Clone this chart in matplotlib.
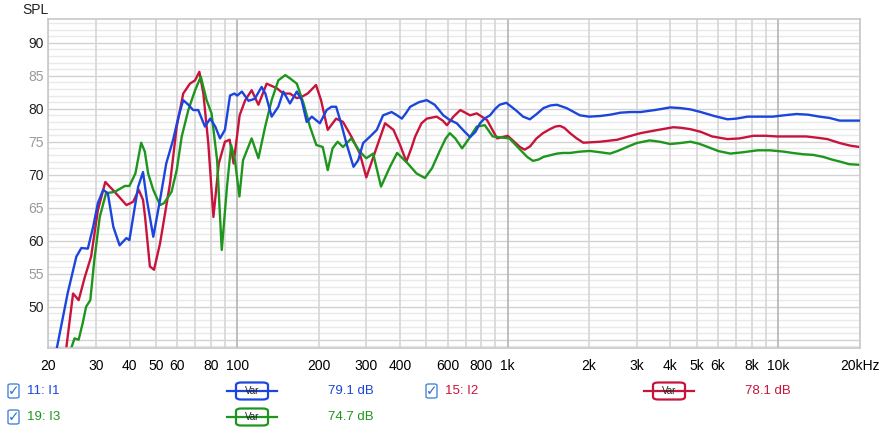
import matplotlib
matplotlib.use('Agg')
import matplotlib.pyplot as plt
from matplotlib.patches import FancyBboxPatch
from matplotlib.lines import Line2D
from matplotlib.ticker import FixedLocator, NullFormatter

plt.rcParams['font.family'] = ['Liberation Sans', 'DejaVu Sans']

# I1 (blue)
b_f = [21.5, 23.6, 25.4, 26.5, 28.0, 29.3, 30.5, 31.9, 33.2, 34.8, 36.7, 38.9, 39.9,
       41.2, 43.0, 44.8, 46.3, 48.9, 51.8, 54.6, 57.9, 60.6, 63.1, 65.9, 68.7, 71.7,
       75.9, 79.4, 82.9, 86.3, 90, 94, 97.5, 100, 104, 110, 116, 123, 127, 134, 141.8,
       148, 156.6, 166, 173, 180.6, 188.6, 202, 214, 223, 232, 242, 253, 269, 280, 292,
       310, 328, 346, 372, 390, 406, 420, 436, 470, 502, 537, 578, 610, 648, 690, 726,
       760, 790, 820, 860, 900, 934, 988, 1070, 1140, 1208, 1280, 1356, 1440, 1520,
       1650, 1850, 2000, 2198, 2400, 2612, 2850, 3100, 3500, 3994, 4350, 4740, 5176,
       5800, 6500, 7000, 7720, 8600, 9560, 10500, 11700, 12900, 14240, 15500, 16900,
       18500, 20000]
b_db = [43.7, 52.1, 57.6, 58.9, 58.8, 62.1, 65.7, 67.7, 67.2, 62.1, 59.3, 60.4, 60.1,
        63.6, 68.2, 70.4, 66.2, 60.6, 66.2, 71.7, 75.3, 78.8, 81.3, 80.6, 79.8, 79.8,
        77.3, 78.5, 77.3, 75.5, 76.8, 82.0, 82.3, 82.0, 82.6, 81.2, 81.5, 83.3, 82.3,
        78.8, 80.3, 82.6, 80.8, 82.6, 81.3, 78.0, 78.8, 77.8, 79.8, 80.3, 80.3, 77.8,
        74.8, 71.2, 72.2, 74.8, 75.8, 76.8, 79.0, 79.5, 79.0, 78.5, 79.3, 80.3, 81.0,
        81.3, 80.6, 79.0, 78.3, 77.8, 76.6, 75.7, 76.5, 77.8, 78.5, 79.0, 80.0, 80.6,
        80.9, 79.8, 78.8, 78.4, 79.2, 80.1, 80.5, 80.6, 80.1, 79.0, 78.8, 78.9, 79.1,
        79.4, 79.5, 79.5, 79.8, 80.2, 80.1, 79.9, 79.5, 78.9, 78.4, 78.5, 78.8, 78.8,
        78.8, 79.0, 79.2, 79.1, 78.8, 78.6, 78.2, 78.2, 78.2]

# I2 (red)
r_f = [23.3, 24.7, 25.9, 27.3, 28.8, 30.5, 32.5, 35.2, 38.9, 41.2, 43.2, 44.8, 45.6,
       47.5, 49.2, 51.8, 56.4, 59.7, 63.1, 66.8, 69.8, 72.4, 74.9, 78.1, 81.6, 85.4,
       90, 93.7, 96.9, 102, 107, 113, 119.7, 128.4, 140, 148, 156.6, 166, 173, 182,
       195.5, 204, 216, 232, 246, 264, 284, 300, 328, 352, 378, 400, 422, 440, 455,
       480, 502, 546, 575, 596, 630, 668, 726, 768, 838, 914, 1000, 1070, 1110, 1156,
       1210, 1278, 1350, 1432, 1500, 1560, 1620, 1700, 1800, 1904, 2000, 2198, 2540,
       2800, 3100, 3500, 4100, 4400, 4740, 5176, 5700, 6500, 7200, 8100, 9000, 9900,
       11200, 12700, 14000, 15200, 16900, 18500, 20000]
r_db = [43.7, 52.0, 51.0, 54.5, 57.6, 64.6, 68.9, 67.4, 65.4, 65.9, 67.7, 66.2, 63.6,
        56.1, 55.6, 59.6, 68.7, 77.3, 82.3, 83.8, 84.3, 85.6, 82.3, 74.8, 63.6, 71.7,
        75.0, 75.3, 71.7, 79.0, 81.3, 82.8, 80.6, 83.8, 83.1, 82.3, 82.3, 81.6, 81.8,
        82.3, 83.6, 81.3, 76.8, 78.5, 78.0, 75.8, 73.2, 69.6, 74.2, 77.8, 76.8, 74.5,
        72.0, 74.0, 75.8, 77.8, 78.5, 78.8, 78.2, 77.5, 78.8, 79.8, 79.0, 79.3, 78.3,
        75.5, 75.9, 74.8, 74.2, 73.8, 74.3, 75.5, 76.3, 76.9, 77.3, 77.4, 77.1, 76.3,
        75.5, 74.85, 74.9, 75.0, 75.3, 75.8, 76.3, 76.7, 77.2, 77.1, 76.9, 76.5, 75.8,
        75.4, 75.5, 75.9, 75.9, 75.8, 75.8, 75.8, 75.6, 75.4, 74.8, 74.4, 74.2]

# I3 (green)
g_f = [24.3, 25.0, 25.9, 26.8, 27.6, 28.6, 29.6, 31.0, 32.7, 35.2, 38.4, 39.9, 42.0,
       44.1, 45.5, 46.8, 48.9, 51.8, 53.6, 57.1, 59.7, 62.3, 65.9, 69.8, 73.3, 77.0,
       80.3, 84.2, 87.6, 91.6, 94.9, 98, 101.8, 105, 113, 119.7, 126.8, 134, 141.8,
       150.5, 156.6, 166, 175.8, 185.6, 196, 207, 216, 225, 235, 246, 264, 284, 300,
       318, 340, 367, 390, 427, 460, 494, 525, 562, 590, 611, 640, 678, 720, 768, 823,
       880, 1015, 1100, 1180, 1240, 1300, 1356, 1520, 1600, 1700, 1850, 2012, 2200,
       2390, 2550, 2760, 3000, 3350, 3650, 3994, 4350, 4740, 5100, 5500, 6000, 6660,
       7400, 8400, 9300, 10500, 11300, 12400, 13500, 14700, 15800, 16900, 18300, 20000]
g_db = [43.7, 45.2, 45.0, 47.5, 50.0, 51.0, 57.1, 63.6, 67.2, 67.4, 68.3, 68.3, 70.2,
        74.85, 73.5, 70.2, 67.7, 65.4, 65.7, 67.4, 70.7, 75.8, 79.8, 82.8, 84.85, 81.3,
        79.3, 72.2, 58.6, 68.2, 74.5, 72.2, 66.7, 72.2, 75.5, 72.5, 77.3, 81.3, 84.3,
        85.1, 84.6, 83.8, 80.8, 77.3, 74.5, 74.2, 70.7, 74.0, 75.0, 74.2, 75.5, 73.5,
        72.5, 73.2, 68.2, 71.2, 73.3, 71.7, 70.2, 69.5, 71.0, 73.7, 75.5, 76.3, 75.5,
        74.0, 75.5, 77.3, 77.5, 75.8, 75.5, 74.0, 72.7, 72.1, 72.3, 72.7, 73.2, 73.3,
        73.3, 73.5, 73.6, 73.4, 73.2, 73.6, 74.2, 74.8, 75.2, 75.0, 74.65, 74.8, 75.0,
        74.7, 74.2, 73.6, 73.2, 73.4, 73.7, 73.7, 73.5, 73.3, 73.1, 73.0, 72.7, 72.3,
        72.0, 71.6, 71.5]

x_ticks = [20, 30, 40, 50, 60, 80, 100, 200, 300, 400, 600, 800, 1000, 2000, 3000,
           4000, 5000, 6000, 8000, 10000, 20000]
x_labels = ['20', '30', '40', '50', '60', '80', '100', '200', '300', '400', '600', '800',
            '1k', '2k', '3k', '4k', '5k', '6k', '8k', '10k', '20kHz']
y_ticks = [50, 55, 60, 65, 70, 75, 80, 85, 90]

names = ['11: I1', '15: I2', '19: I3']
levels = ['79.1 dB', '78.1 dB', '74.7 dB']
colors = ['#1b45dc', '#c8143c', '#1e961e']

W, H = 884, 432
fig = plt.figure(figsize=(W / 100, H / 100), dpi=100)
ax = fig.add_axes([48.3 / W, 1 - 348.3 / H, (859.5 - 48.3) / W, (348.3 - 19.3) / H])
ax.set_xscale('log')
ax.set_xlim(20, 20000)
ax.set_ylim(43.7, 93.55)

# grid
for d in range(44, 94):
    c = '#d2d2d2' if d % 5 == 0 else '#e9e9e9'
    ax.axhline(d, color=c, lw=1.0, zorder=0)
for dec in [10, 100, 1000, 10000]:
    for m in range(1, 10):
        f = dec * m
        if f < 20 or f > 20000:
            continue
        c = '#b4b4b4' if m == 1 else '#d6d6d6'
        ax.axvline(f, color=c, lw=1.2, zorder=0)

kw = dict(lw=1.7, solid_joinstyle='round', solid_capstyle='round')
ax.plot(b_f, b_db, color=colors[0], zorder=3, **kw)
ax.plot(r_f, r_db, color=colors[1], zorder=2, **kw)
ax.plot(g_f, g_db, color=colors[2], zorder=2, **kw)

ax.xaxis.set_major_locator(FixedLocator(x_ticks))
ax.set_xticklabels(x_labels)
ax.xaxis.set_minor_formatter(NullFormatter())
ax.xaxis.set_minor_locator(FixedLocator([]))
ax.set_yticks(y_ticks)
ax.set_yticklabels([str(v) for v in y_ticks])
for lab, v in zip(ax.get_yticklabels(), y_ticks):
    lab.set_color('#222222' if v % 10 == 0 else '#999999')
ax.tick_params(length=0, labelsize=10, pad=3)
ax.tick_params(axis='x', pad=8)
for s in ax.spines.values():
    s.set_color('#c8c8c8')
    s.set_linewidth(1.2)

fig.text(22 / W, 1 - 10 / H, 'SPL', fontsize=10, va='center', ha='left', color='#222222')


def px(x, y):
    return x / W, 1 - y / H


def checkbox(x, y):
    fig.patches.append(FancyBboxPatch(px(x, y + 7), 11 / W, 14 / H,
                                      boxstyle='round,pad=0,rounding_size=0.003',
                                      transform=fig.transFigure, fc='white',
                                      ec='#4a86d8', lw=1.0))
    fig.text(*px(x + 6, y), '\u2713', fontsize=10, color='#2a6fd0',
             ha='center', va='center', family='DejaVu Sans')


def varbox(x, y, color):
    fig.lines.append(Line2D([px(x - 25, y)[0], px(x + 25, y)[0]], [px(x, y)[1]] * 2,
                            transform=fig.transFigure, color=color, lw=1.6))
    fig.patches.append(FancyBboxPatch(px(x - 16, y + 8.5), 32 / W, 17 / H,
                                      boxstyle='round,pad=0,rounding_size=0.006',
                                      transform=fig.transFigure, fc='white',
                                      ec=color, lw=1.6))
    fig.text(*px(x, y), 'Var', fontsize=7, color='#222222', ha='center', va='center')


rows = [(0, 15, 252, 328, 391), (1, 433, 669, 745, 391), (2, 15, 252, 328, 417)]
for i, xc, xv, xd, y in rows:
    checkbox(xc - 7, y)
    fig.text(*px(xc + 12, y), names[i], fontsize=9.5, color=colors[i], va='center')
    varbox(xv, y, colors[i])
    fig.text(*px(xd, y), levels[i], fontsize=9.5, color=colors[i], va='center')

fig.savefig('out.png', dpi=100)
